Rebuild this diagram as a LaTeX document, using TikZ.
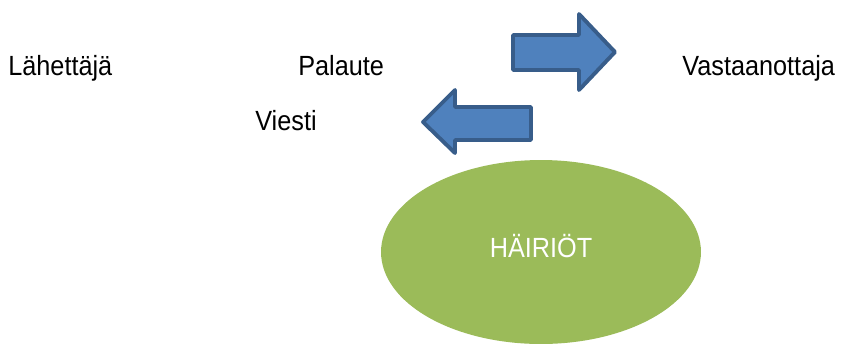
\documentclass[tikz,border=0pt]{standalone}
\usepackage{fontspec}
\setmainfont{Liberation Sans}
\newfontfamily\diafont[FakeStretch=0.91]{Liberation Sans}
\usetikzlibrary{shapes.geometric}
\definecolor{arrowblue}{HTML}{4F81BD}
\definecolor{arrowline}{HTML}{385D8A}
\definecolor{noisegreen}{HTML}{9BBB59}
\tikzset{
  sana/.style={anchor=base west, inner sep=0pt, font=\diafont\fontsize{15.8}{18}\selectfont},
  blockarrow/.style={draw=arrowline, fill=arrowblue, line width=2.2pt, line join=round}
}

\begin{document}
\begin{tikzpicture}[x=0.02cm, y=-0.02cm]
		\useasboundingbox (0,0) rectangle (843,343);

		\node [sana] (lahettaja) at (8,75) {Lähettäjä};
		\node [sana] (palaute) at (298,75) {Palaute};
		\node [sana] (vastaanottaja) at (682,75) {Vastaanottaja};
		\node [sana] (viesti) at (255,130) {Viesti};

		% nuolet
		\draw [blockarrow] (513,35) -- (579,35) -- (579,14) -- (615,52)
		      -- (579,90) -- (579,70) -- (513,70) -- cycle;
		\draw [blockarrow] (531,107) -- (455,107) -- (455,90) -- (423,122)
		      -- (455,153) -- (455,140) -- (531,140) -- cycle;

		\node [ellipse, fill=noisegreen, minimum width=6.4cm, minimum height=3.68cm,
		       text=white, font=\diafont\fontsize{15.8}{18}\selectfont, text depth=7pt] (hairiot) at (541,252) {HÄIRIÖT};

\end{tikzpicture}
\end{document}
